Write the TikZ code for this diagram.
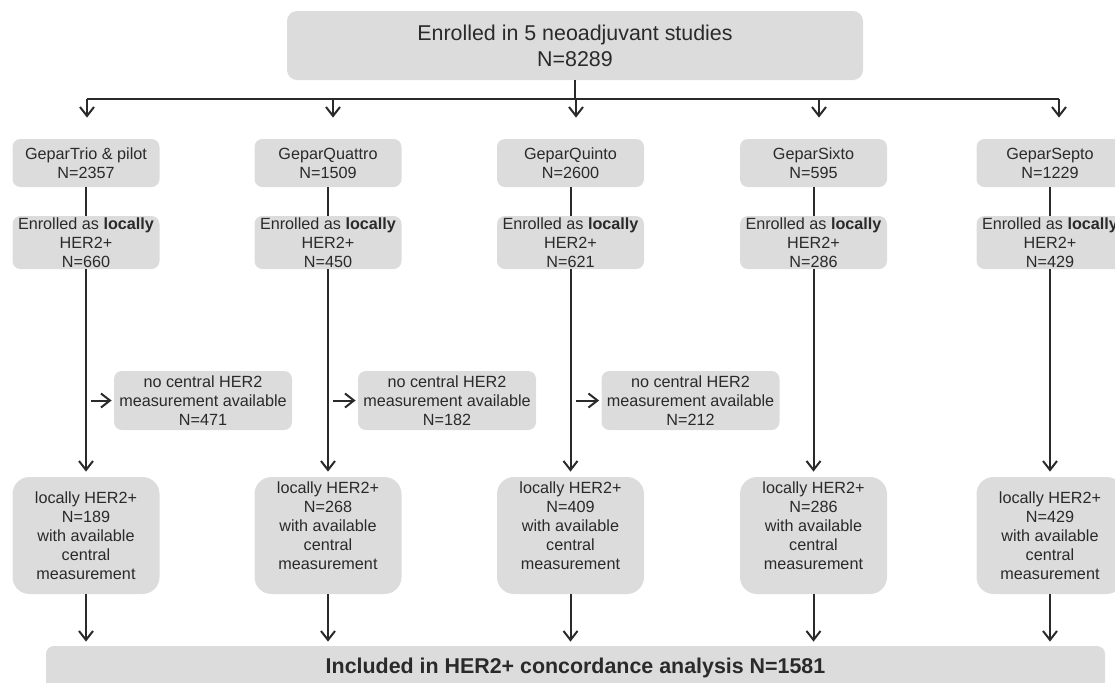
\documentclass[tikz,border=0pt]{standalone}
\usepackage{fontspec}
\setmainfont{Liberation Sans}
\usetikzlibrary{arrows.meta, positioning, calc}
\definecolor{boxgray}{HTML}{DCDCDC}
\definecolor{ink}{HTML}{2A2A2A}
\tikzset{
  box/.style={fill=boxgray, rounded corners=4pt, text=ink, align=center,
    font=\fontsize{8.1}{9.5}\selectfont, inner sep=0pt, minimum width=73.5pt},
  arr/.style={-{Straight Barb[length=4.5pt,width=7pt]}, line width=1pt, draw=ink},
  ln/.style={line width=1pt, draw=ink}
}

\begin{document}
\begin{tikzpicture}[x=0.5pt,y=-0.5pt]
\useasboundingbox (0,0) rectangle (1115,682);
\clip (0,0) rectangle (1115,682);

% top box
\node[box, rounded corners=5pt, minimum width=288pt, minimum height=34.5pt,
  font=\fontsize{10.7}{13}\selectfont] (top) at (575,45.5) {Enrolled in 5 neoadjuvant studies\\N=8289};

% the five studies
\foreach \i/\xc/\study/\nall/\nloc in {1/86/GeparTrio \& pilot/2357/660, 2/328/GeparQuattro/1509/450,
    3/570.5/GeparQuinto/2600/621, 4/813.5/GeparSixto/595/286, 5/1050/GeparSepto/1229/429} {
  \node[box, minimum height=24pt] (s\i) at (\xc,163) {\study\\N=\nall};
  \node[box, minimum height=26.5pt] (l\i) at (\xc,242.5) {Enrolled as \textbf{locally}\\HER2+\\N=\nloc};
  \draw[ln] (s\i) -- (l\i);
}

% excluded
\foreach \i/\xc/\n in {1/203/471, 2/447/182, 3/690.5/212} {
  \node[box, minimum width=89pt, minimum height=29.5pt] (n\i) at (\xc,400.5) {no central HER2\\measurement available\\N=\n};
}

% with central measurement
\node[box, rounded corners=8.5pt, minimum height=58.5pt] (b1) at (86,535.5) {locally HER2+\\N=189\\with available\\central\\measurement};
\node[box, rounded corners=8.5pt, minimum height=58.5pt] (b2) at (328,535.5) {locally HER2+\\N=268\\with available\\central\\measurement\\\mbox{}};
\node[box, rounded corners=8.5pt, minimum height=58.5pt] (b3) at (570.5,535.5) {locally HER2+\\N=409\\with available\\central\\measurement\\\mbox{}};
\node[box, rounded corners=8.5pt, minimum height=58.5pt] (b4) at (813.5,535.5) {locally HER2+\\N=286\\with available\\central\\measurement\\\mbox{}};
\node[box, rounded corners=8.5pt, minimum height=58.5pt] (b5) at (1050,535.5) {locally HER2+\\N=429\\with available\\central\\measurement};

\node[box, minimum width=529.5pt, minimum height=22pt,
  font=\fontsize{10.7}{13}\bfseries\selectfont] (inc) at (575.5,668) {Included in HER2+ concordance analysis N=1581};

% connectors
\coordinate (bus) at (575,99);
\foreach \i/\xa in {1/87, 2/333, 3/576, 4/819, 5/1059}
  \coordinate (t\i) at (\xa,99);
\draw[ln] (top) -- (bus);
\draw[ln] (t1) -- (t5);
\foreach \i in {1,...,5} {
  \draw[arr, shorten >=10.5pt] (t\i) -- (t\i |- s\i.north);
  \draw[arr, shorten >=2.5pt] (l\i) -- (b\i);
  \draw[arr, shorten >=2pt] (b\i) -- (b\i |- inc.north);
}
\foreach \i in {1,2,3}
  \draw[arr, shorten <=2.5pt, shorten >=1pt] (l\i.south |- n\i.west) -- (n\i.west);
\end{tikzpicture}
\end{document}
